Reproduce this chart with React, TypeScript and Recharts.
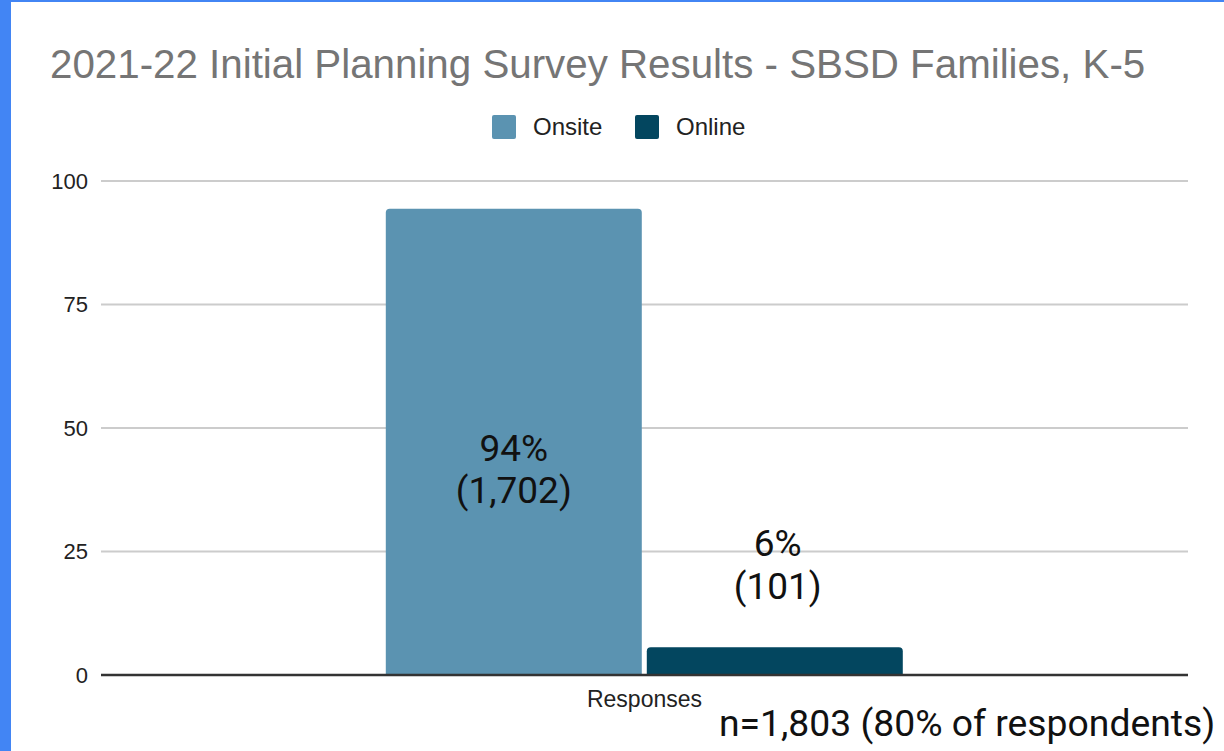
import React from 'react';
import { BarChart, Bar, XAxis, YAxis, CartesianGrid, Legend, LabelList } from 'recharts';

const categories = ['Responses'];
const seriesNames = ['Onsite', 'Online'];
const onsiteValues = [94.4];
const onlineValues = [5.6];
const onsiteLabels = ['94%', '(1,702)'];
const onlineLabels = ['6%', '(101)'];
const yTicks = [0, 25, 50, 75, 100];
const titleText = '2021-22 Initial Planning Survey Results - SBSD Families, K-5';
const noteText = 'n=1,803 (80% of respondents)';

const colors = ['#5b93b1', '#03465f'];

const data = categories.map((c, i) => ({
  category: c,
  Onsite: onsiteValues[i],
  Online: onlineValues[i],
}));

const W = 1224;
const H = 751;

const OnsiteLabel = (props: any) => {
  const { x, y, width, height } = props;
  const cx = x + width / 2;
  const cy = y + height / 2;
  return (
    <g>
      <text x={cx} y={cy + 19} textAnchor="middle" fontFamily="Roboto" fontSize={37} fill="#111">
        {onsiteLabels[0]}
      </text>
      <text x={cx} y={cy + 61} textAnchor="middle" fontFamily="Roboto" fontSize={37} fill="#111">
        {onsiteLabels[1]}
      </text>
    </g>
  );
};

const OnlineLabel = (props: any) => {
  const { x, y, width } = props;
  const cx = x + width / 2 + 3;
  return (
    <g>
      <text x={cx} y={y - 91} textAnchor="middle" fontFamily="Roboto" fontSize={37} fill="#111">
        {onlineLabels[0]}
      </text>
      <text x={cx} y={y - 48} textAnchor="middle" fontFamily="Roboto" fontSize={37} fill="#111">
        {onlineLabels[1]}
      </text>
    </g>
  );
};

const renderLegend = () => (
  <div style={{ position: 'relative', width: W, height: 30 }}>
    {seriesNames.map((name, i) => (
      <div
        key={name}
        style={{
          position: 'absolute',
          left: i === 0 ? 492 : 635,
          top: 0,
          display: 'flex',
          alignItems: 'center',
          height: 24,
        }}
      >
        <div style={{ width: 24, height: 24, borderRadius: 2, background: colors[i] }} />
        <span
          style={{
            marginLeft: 17,
            fontFamily: 'Liberation Sans, Arial, sans-serif',
            fontSize: 24,
            color: '#222',
            lineHeight: '24px',
          }}
        >
          {name}
        </span>
      </div>
    ))}
  </div>
);

export default function App() {
  return (
    <div style={{ position: 'absolute', left: 0, top: 0, width: W, height: H, background: '#fff', overflow: 'hidden' }}>
      <div style={{ position: 'absolute', left: 0, top: 0, width: 11, height: H, background: '#4285f4' }} />
      <div style={{ position: 'absolute', left: 0, top: 0, width: W, height: 2, background: '#4285f4' }} />
      <div style={{ position: 'absolute', left: 0, top: 0 }}>
        <BarChart
          width={W}
          height={H}
          data={data}
          margin={{ top: 151, right: 36, bottom: 0, left: 0 }}
          barCategoryGap="26.2%"
          barGap={5}
        >
          <CartesianGrid vertical={false} stroke="#cccccc" strokeWidth={2} />
          <XAxis
            dataKey="category"
            height={76}
            tickLine={false}
            axisLine={{ stroke: '#333', strokeWidth: 2.5 }}
            tickMargin={10}
            tick={{ fontFamily: 'Liberation Sans, Arial, sans-serif', fontSize: 23, fill: '#222' }}
          />
          <YAxis
            width={101}
            domain={[0, 100]}
            ticks={yTicks}
            tickLine={false}
            axisLine={false}
            tickMargin={7}
            tick={{ fontFamily: 'Liberation Sans, Arial, sans-serif', fontSize: 22, fill: '#222' }}
          />
          <Legend
            verticalAlign="top"
            content={renderLegend}
            wrapperStyle={{ position: 'absolute', top: 115, left: 0, width: W, height: 30 }}
          />
          <Bar dataKey="Onsite" fill={colors[0]} radius={[4, 4, 0, 0]} isAnimationActive={false}>
            <LabelList dataKey="Onsite" content={OnsiteLabel} />
          </Bar>
          <Bar dataKey="Online" fill={colors[1]} radius={[4, 4, 0, 0]} isAnimationActive={false}>
            <LabelList dataKey="Online" content={OnlineLabel} />
          </Bar>
        </BarChart>
      </div>
      <svg
        width={W}
        height={H}
        style={{ position: 'absolute', left: 0, top: 0, pointerEvents: 'none' }}
      >
        <text x={50} y={78} fontFamily="Liberation Sans, Arial, sans-serif" fontSize={40.3} fill="#757575">
          {titleText}
        </text>
        <text x={719} y={736} fontFamily="Roboto" fontSize={37.3} fill="#111">
          {noteText}
        </text>
      </svg>
    </div>
  );
}
